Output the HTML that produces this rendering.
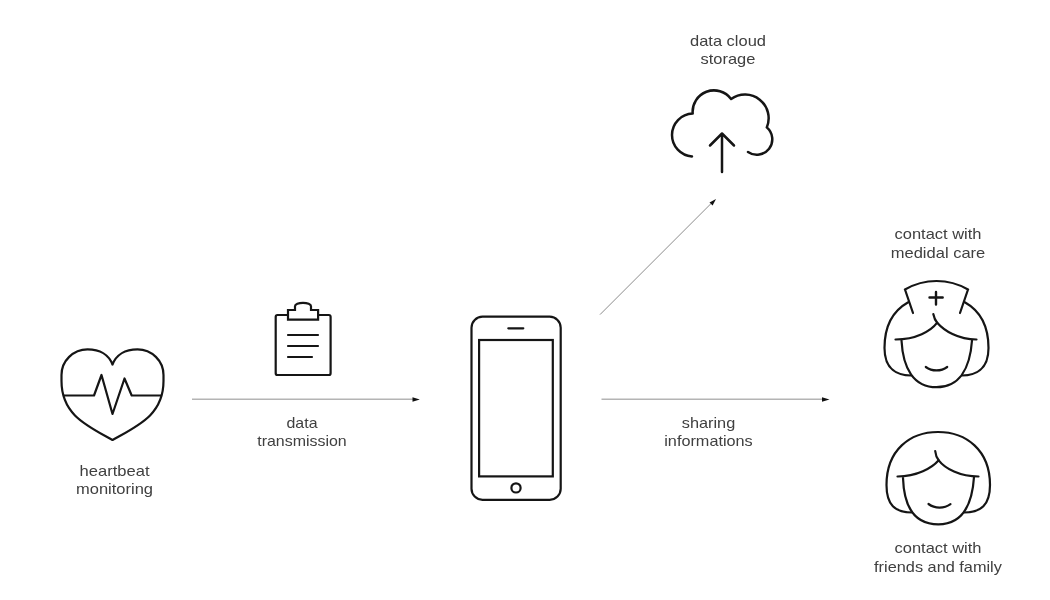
<!DOCTYPE html>
<html>
<head>
<meta charset="utf-8">
<style>
html,body{margin:0;padding:0;background:#fff;}
body{width:1050px;height:600px;overflow:hidden;position:relative;}
svg{position:absolute;left:0;top:0;will-change:transform;}
text{font-family:"Liberation Sans",sans-serif;font-size:14.6px;fill:#404040;}
</style>
</head>
<body>
<svg width="1050" height="600" viewBox="0 0 1050 600">
<g fill="none" stroke="#151515" stroke-width="2.2" stroke-linecap="round" stroke-linejoin="round">
  <!-- heart -->
  <path d="M112.5,364.5 C109,355 100,349.3 87.5,349.3 C73.2,349.3 61.5,360.9 61.5,375 L61.5,381 C61.5,414.8 87,425.6 112.5,440 C138,425.6 163.5,414.8 163.5,381 L163.5,375 C163.5,360.9 151.8,349.3 137.5,349.3 C125,349.3 116,355 112.5,364.5 Z"/>
  <path d="M63.5,395.5 L94,395.5 L101.5,375 L112.5,414 L124.5,378.5 L131.7,395.5 L161.5,395.5" stroke-linecap="butt"/>
  <!-- clipboard -->
  <path d="M288,315 H277.5 Q275.7,315 275.7,316.8 V373.2 Q275.7,375 277.5,375 H328.8 Q330.6,375 330.6,373.2 V316.8 Q330.6,315 328.8,315 H318.1"/>
  <path d="M288,319.7 V310 H295 V306.3 A8,3.5 0 0 1 311,306.3 V310 H318.1 V319.7 Z" stroke-linejoin="miter"/>
  <path d="M288,335 H318 M288,346 H318 M288,357 H312"/>
  <!-- phone -->
  <rect x="471.5" y="316.7" width="89.2" height="183.1" rx="11" ry="11"/>
  <rect x="479.1" y="340" width="73.7" height="136.4" stroke-linejoin="miter"/>
  <path d="M508.3,328.3 H523.3"/>
  <circle cx="516" cy="487.9" r="4.6"/>
  <!-- cloud -->
  <path stroke-width="2.5" d="M692,156.45 A21.5,21.5 0 0 1 672,135 A21.5,21.5 0 0 1 692.7,113.5 A21.35,21.35 0 0 1 731.1,99.0 A23.7,23.7 0 0 1 766.8,127.4 A15.5,15.5 0 0 1 748,152"/>
  <path stroke-width="2.5" d="M722,133.5 V172 M710,145.5 L722,133.5 L734,145.5"/>
  <!-- nurse -->
  <path d="M913,313 L905,289.5 A62.6,62.6 0 0 1 968,289.5 L960,313" stroke-linejoin="miter"/>
  <path stroke-width="2.4" d="M936,292 V304.5 M929.5,297.5 H942.7"/>
  <path d="M908.2,302.3 C890,312.5 884.5,330 884.5,348 C884.5,370 898,375.5 911,375.5"/>
  <path d="M964.8,302.3 C983,312.5 988.5,330 988.5,348 C988.5,370 975,375.5 962,375.5"/>
  <path d="M895.5,339.5 C916,339.5 931,331 937.2,322.7 C944,330.5 958,339.5 976.5,339.5"/>
  <path d="M933.3,314 C934,317.5 935.2,320.5 937.2,322.7"/>
  <path d="M901.5,340.5 C903,369 914,387.2 936.5,387.2 C959,387.2 970,369 972,340.5"/>
  <path d="M925.8,367 C932,371.6 941,371.6 947.2,367"/>
  <!-- woman -->
  <path d="M912,512.5 C895,512.5 886.5,505 886.5,485 C886.5,450 910,432 938,432 C966,432 990,450 990,485 C990,505 981,512.5 964,512.5"/>
  <path d="M897.5,476.5 C917,476.5 932,468 938.7,460.3 C945,468.5 960,476.5 978.5,476.5"/>
  <path d="M935.2,451 C935.6,455 936.8,458 938.7,460.3"/>
  <path d="M903,478 C904,508 915,524.3 938.3,524.3 C961,524.3 972,508 974,477"/>
  <path d="M928.5,504 C935,508.8 944,508.8 950.5,504.2"/>
</g>
<!-- arrows -->
<g fill="none">
  <path d="M192,399.2 H413" stroke="#b4b4b4" stroke-width="1.5"/>
  <path d="M601.5,399.2 H822" stroke="#b4b4b4" stroke-width="1.5"/>
  <path d="M600,314.6 L711,203.6" stroke="#8c8c8c" stroke-width="1"/>
</g>
<g fill="#111">
  <path d="M412.5,397.2 L419.8,399.5 L412.5,401.8 Z"/>
  <path d="M822,397.2 L829.5,399.5 L822,401.8 Z"/>
  <path d="M716,199 L712.6,205.5 L709.5,202.4 Z"/>
</g>
<!-- labels -->
<g text-anchor="middle">
  <text x="114.5" y="475.6" textLength="70" lengthAdjust="spacingAndGlyphs">heartbeat</text>
  <text x="114.5" y="493.6" textLength="77" lengthAdjust="spacingAndGlyphs">monitoring</text>
  <text x="302" y="427.5" textLength="31" lengthAdjust="spacingAndGlyphs">data</text>
  <text x="302" y="446" textLength="89.5" lengthAdjust="spacingAndGlyphs">transmission</text>
  <text x="708.5" y="427.8" textLength="53.5" lengthAdjust="spacingAndGlyphs">sharing</text>
  <text x="708.5" y="446" textLength="88.5" lengthAdjust="spacingAndGlyphs">informations</text>
  <text x="728" y="46" textLength="76" lengthAdjust="spacingAndGlyphs">data cloud</text>
  <text x="728" y="64.1" textLength="54.8" lengthAdjust="spacingAndGlyphs">storage</text>
  <text x="938" y="239.3" textLength="87" lengthAdjust="spacingAndGlyphs">contact with</text>
  <text x="938" y="257.6" textLength="94.5" lengthAdjust="spacingAndGlyphs">medidal care</text>
  <text x="938" y="553.1" textLength="87" lengthAdjust="spacingAndGlyphs">contact with</text>
  <text x="938" y="572" textLength="127.8" lengthAdjust="spacingAndGlyphs">friends and family</text>
</g>
</svg>
</body>
</html>
